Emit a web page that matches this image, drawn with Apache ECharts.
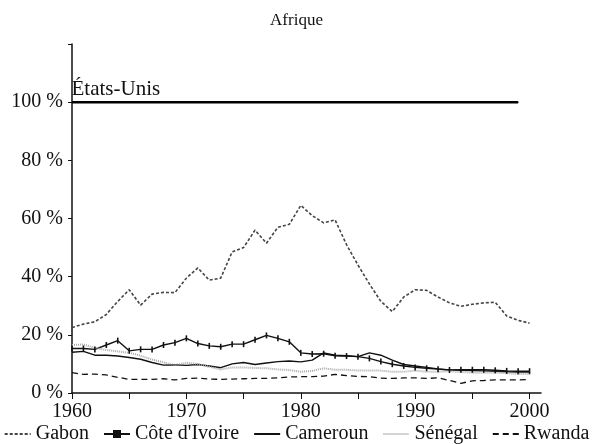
<!DOCTYPE html>
<html>
<head>
<meta charset="utf-8">
<script src="https://cdn.jsdelivr.net/npm/echarts@6/dist/echarts.min.js"></script>
<style>
html,body{margin:0;padding:0;background:#fff;}
#chart{width:593px;height:444px;}
</style>
</head>
<body>
<div id="chart"></div>
<script>
var years = [];
for (var y = 1960; y <= 2000; y++) years.push(y);

var usYears = [1960, 1999];
var usValues = [100, 100];

var gabon = [22.5,23.7,24.5,27,31.5,35.5,30.2,34,34.6,34.5,
             39.5,43,38.8,39.5,48.5,50,56,51.5,57,58,
             64.5,61,58.5,59.5,51,44,37.5,31.5,28,33,
             35.5,35.3,33,31,29.8,30.5,31,31.2,26.5,25,24];
var coteIvoire = [15.3,15.3,15,16.5,18,14.5,15,15,16.5,17.3,
                  18.8,17,16.2,15.9,16.8,16.8,18.3,19.8,18.8,17.6,
                  13.8,13.4,13.5,12.8,12.7,12.5,11.9,10.8,9.9,9.3,
                  8.8,8.5,8.2,7.9,8,8,8,7.8,7.6,7.5,7.5];
var cameroun = [14,14.3,13,13,12.7,12.2,11.6,10.5,9.6,9.7,
                9.5,9.8,9.3,8.7,10,10.5,9.8,10.3,10.8,11,
                10.7,11.3,13.8,13,12.8,12.5,13.8,13,11.3,9.8,
                9.3,8.8,8.3,7.9,7.8,7.7,7.6,7.5,7.3,7.2,7.2];
var senegal = [16.5,16.7,15.5,14.8,14.3,13.8,12.8,11.5,10.5,9.6,
               10.4,10,9,8.1,8.8,8.8,8.6,8.5,8.1,7.9,
               7.3,7.6,8.5,8,8,7.7,7.7,7.7,7.3,7.3,
               7.7,7.3,7.3,7.5,7.2,7,7,7,6.8,6.5,6.5];
var rwanda = [7,6.4,6.5,6.2,5.4,4.7,4.7,4.7,4.9,4.5,
              5,5.1,4.8,4.7,4.8,4.9,5,5,5.2,5.5,
              5.6,5.6,5.8,6.4,6,5.7,5.6,5.1,5,5.2,
              5.2,5,5.2,4.3,3.3,4.2,4.3,4.5,4.5,4.5,4.6];

var names = ['Gabon', "Côte d'Ivoire", 'Cameroun', 'Sénégal', 'Rwanda'];
var xTicks = [1960, 1970, 1980, 1990, 2000];
var yTicks = [0, 20, 40, 60, 80, 100];

function pairs(vals) { return years.map(function (yr, i) { return [yr, vals[i]]; }); }

var FONT = '"Liberation Serif", "DejaVu Serif", serif';
var chart = echarts.init(document.getElementById('chart'), null, {renderer: 'canvas'});

var usData = [];
for (var yy = usYears[0]; yy <= usYears[1]; yy++) usData.push([yy, usValues[0]]);
usData[0] = {
  value: usData[0],
  label: {show: true, formatter: 'États-Unis', position: [0, -2], align: 'left', verticalAlign: 'bottom',
          fontFamily: FONT, fontSize: 21, color: '#111'}
};

var hidden = {opacity: 0};
var TICK = 'path://M0,0h1v5h-1z';

chart.setOption({
  animation: false,
  backgroundColor: '#fff',
  title: {
    text: 'Afrique', left: 'center', top: 7,
    textStyle: {fontFamily: FONT, fontSize: 17, fontWeight: 'normal', color: '#111'}
  },
  grid: {left: 72, right: 52, top: 44, bottom: 51, containLabel: false},
  xAxis: {
    type: 'value', min: 1960, max: 2001, interval: 5,
    axisLine: {lineStyle: {color: '#111', width: 1.5}},
    axisTick: {show: true, inside: false, length: 6, lineStyle: {color: '#111'}},
    axisLabel: {
      fontFamily: FONT, fontSize: 20, color: '#111', margin: 9,
      showMaxLabel: false,
      formatter: function (v) { return xTicks.indexOf(v) >= 0 ? String(v) : ''; }
    },
    splitLine: {show: false}
  },
  yAxis: {
    type: 'value', min: 0, max: 120, interval: 20,
    axisLine: {show: true, lineStyle: {color: '#111', width: 1.5}},
    axisTick: {show: true, inside: false, length: 4, lineStyle: {color: '#111'}},
    axisLabel: {
      fontFamily: FONT, fontSize: 20, color: '#111', margin: 9,
      formatter: function (v) { return yTicks.indexOf(v) >= 0 ? v + ' %' : ''; }
    },
    splitLine: {show: false}
  },
  legend: {
    bottom: 0, left: 'center', itemGap: 14, itemWidth: 26, itemHeight: 10, padding: [0, 0, 0, 0],
    symbolKeepAspect: true,
    data: [
      {name: names[0], itemStyle: hidden},
      {name: names[1]},
      {name: names[2], itemStyle: hidden},
      {name: names[3], itemStyle: hidden},
      {name: names[4], itemStyle: hidden}
    ],
    textStyle: {fontFamily: FONT, fontSize: 20, color: '#111'}
  },
  series: [
    {
      name: 'États-Unis', type: 'line', data: usData, symbol: 'circle', symbolSize: 1,
      showSymbol: true, itemStyle: {color: '#000'},
      lineStyle: {color: '#000', width: 2.5}, z: 5
    },
    {
      name: names[0], type: 'line', data: pairs(gabon), symbol: 'none',
      itemStyle: {color: '#444'},
      lineStyle: {color: '#444', width: 1.6, type: [3, 2]}
    },
    {
      name: names[1], type: 'line', data: pairs(coteIvoire), symbol: TICK, symbolSize: [1.6, 6],
      symbolKeepAspect: false,
      itemStyle: {color: '#111'},
      lineStyle: {color: '#111', width: 1.4}
    },
    {
      name: names[2], type: 'line', data: pairs(cameroun), symbol: 'none',
      itemStyle: {color: '#111'},
      lineStyle: {color: '#111', width: 1.4}
    },
    {
      name: names[3], type: 'line', data: pairs(senegal), symbol: 'none',
      itemStyle: {color: '#aaa'},
      lineStyle: {color: '#aaa', width: 2, type: [1, 1]}
    },
    {
      name: names[4], type: 'line', data: pairs(rwanda), symbol: 'none',
      itemStyle: {color: '#111'},
      lineStyle: {color: '#111', width: 1.3, type: [6, 4]}
    }
  ]
});
</script>
</body>
</html>
